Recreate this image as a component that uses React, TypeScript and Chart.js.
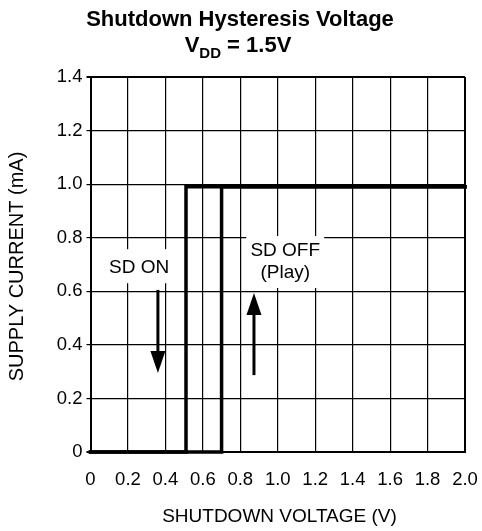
import React, { useEffect, useRef } from "react";
import { Chart, registerables } from "chart.js";

Chart.register(...registerables);

// ---- data ----
const xTickLabels = ["0", "0.2", "0.4", "0.6", "0.8", "1.0", "1.2", "1.4", "1.6", "1.8", "2.0"];
const yTickLabels = ["0", "0.2", "0.4", "0.6", "0.8", "1.0", "1.2", "1.4"];

// SD ON path (decreasing shutdown voltage)
const sdOnVoltage = [2.0, 0.51, 0.51, 0];
const sdOnCurrent = [0.99, 0.99, 0, 0];
// SD OFF path (increasing shutdown voltage)
const sdOffVoltage = [0, 0.7, 0.7, 2.0];
const sdOffCurrent = [0, 0, 0.99, 0.99];

const titleLine1 = "Shutdown Hysteresis Voltage";
const xAxisTitle = "SHUTDOWN VOLTAGE (V)";
const yAxisTitle = "SUPPLY CURRENT (mA)";

const FONT = "'Liberation Sans', Arial, Helvetica, sans-serif";

function toPoints(xs: number[], ys: number[]) {
  return xs.map((x, i) => ({ x, y: ys[i] }));
}

const annotationPlugin = {
  id: "hystAnnotations",
  beforeDatasetsDraw(chart: any) {
    const ctx = chart.ctx as CanvasRenderingContext2D;
    const xs = chart.scales.x;
    const ys = chart.scales.y;
    const px = (v: number) => xs.getPixelForValue(v);
    const py = (v: number) => ys.getPixelForValue(v);
    ctx.save();
    ctx.font = `19px ${FONT}`;
    ctx.textAlign = "center";
    ctx.textBaseline = "middle";

    // SD ON label box
    const onX = px(0.26), onY = py(0.69);
    ctx.fillStyle = "#fff";
    ctx.fillRect(onX - 30, onY - 18, 60, 34);
    ctx.fillStyle = "#000";
    ctx.fillText("SD ON", onX, onY + 1);

    // SD OFF (Play) label box
    const offX = px(1.04), offY1 = py(0.754), offY2 = py(0.672);
    ctx.fillStyle = "#fff";
    ctx.fillRect(offX - 39, offY1 - 14, 78, offY2 - offY1 + 30);
    ctx.fillStyle = "#000";
    ctx.fillText("SD OFF", offX, offY1 + 1);
    ctx.fillText("(Play)", offX, offY2 + 1);

    // arrows
    const arrow = (x: number, yFrom: number, yTo: number) => {
      const X = px(x), Y0 = py(yFrom), Y1 = py(yTo);
      const dir = Y1 > Y0 ? 1 : -1;
      const headLen = 22, headHalf = 7.5;
      ctx.strokeStyle = "#000";
      ctx.lineWidth = 3;
      ctx.beginPath();
      ctx.moveTo(X, Y0);
      ctx.lineTo(X, Y1 - dir * headLen);
      ctx.stroke();
      ctx.fillStyle = "#000";
      ctx.beginPath();
      ctx.moveTo(X, Y1);
      ctx.lineTo(X - headHalf, Y1 - dir * headLen);
      ctx.lineTo(X + headHalf, Y1 - dir * headLen);
      ctx.closePath();
      ctx.fill();
    };
    arrow(0.36, 0.605, 0.295);
    arrow(0.873, 0.287, 0.594);
    ctx.restore();
  },
  afterDraw(chart: any) {
    const ctx = chart.ctx as CanvasRenderingContext2D;
    ctx.save();
    ctx.fillStyle = "#000";
    // title line 1
    ctx.font = `bold 22px ${FONT}`;
    ctx.textAlign = "center";
    ctx.textBaseline = "alphabetic";
    ctx.fillText(titleLine1, 240, 26);
    // title line 2: V_DD = 1.5V
    ctx.textAlign = "left";
    const big = `bold 22px ${FONT}`;
    const small = `bold 15px ${FONT}`;
    ctx.font = big;
    const wV = ctx.measureText("V").width;
    const wRest = ctx.measureText(" = 1.5V").width;
    ctx.font = small;
    const wDD = ctx.measureText("DD").width;
    const total = wV + wDD + wRest;
    let x0 = 238 - total / 2;
    ctx.font = big;
    ctx.fillText("V", x0, 52);
    x0 += wV;
    ctx.font = small;
    ctx.fillText("DD", x0, 58);
    x0 += wDD;
    ctx.font = big;
    ctx.fillText(" = 1.5V", x0, 52);

    // x axis title
    ctx.font = `19px ${FONT}`;
    ctx.textAlign = "center";
    ctx.fillText(xAxisTitle, 279.5, 522);

    // y axis title
    ctx.translate(23, 266.5);
    ctx.rotate(-Math.PI / 2);
    ctx.font = `20px ${FONT}`;
    ctx.fillText(yAxisTitle, 0, 0);
    ctx.restore();
  },
};

export default function App() {
  const canvasRef = useRef<HTMLCanvasElement | null>(null);

  useEffect(() => {
    const canvas = canvasRef.current;
    if (!canvas) return;
    const chart = new Chart(canvas, {
      type: "scatter",
      data: {
        datasets: [
          {
            label: "SD ON",
            data: toPoints(sdOnVoltage, sdOnCurrent),
            showLine: true,
            borderColor: "#000",
            borderWidth: 3.5,
            pointRadius: 0,
            tension: 0,
            clip: false as any,
            borderCapStyle: "square",
            borderJoinStyle: "miter",
          },
          {
            label: "SD OFF",
            data: toPoints(sdOffVoltage, sdOffCurrent),
            showLine: true,
            borderColor: "#000",
            borderWidth: 3.5,
            pointRadius: 0,
            tension: 0,
            clip: false as any,
            borderCapStyle: "square",
            borderJoinStyle: "miter",
          },
        ],
      },
      options: {
        responsive: false,
        animation: false,
        devicePixelRatio: 1,
        layout: { padding: { top: 77, right: 17, left: 0, bottom: 0 } },
        plugins: {
          legend: { display: false },
          tooltip: { enabled: false },
          title: { display: false },
        },
        scales: {
          x: {
            type: "linear",
            min: 0,
            max: 2,
            afterFit: (scale: any) => {
              scale.height = 79;
              scale.paddingLeft = 0;
              scale.paddingRight = 0;
            },
            ticks: {
              stepSize: 0.2,
              color: "#000",
              padding: 17,
              maxRotation: 0,
              autoSkip: false,
              font: { family: FONT, size: 18.5 },
              callback: (_v: any, i: number) => xTickLabels[i],
            },
            grid: {
              color: "#000",
              lineWidth: (c: any) => (c.index === 0 || c.index === xTickLabels.length - 1 ? 2 : 1.2),
              drawTicks: false,
            },
            border: { display: true, color: "#000", width: 2 },
          },
          y: {
            type: "linear",
            min: 0,
            max: 1.4,
            afterFit: (scale: any) => {
              scale.width = 90.5;
              scale.paddingTop = 0;
              scale.paddingBottom = 0;
            },
            ticks: {
              stepSize: 0.2,
              color: "#000",
              padding: 4,
              font: { family: FONT, size: 18.5 },
              callback: (_v: any, i: number) => yTickLabels[i],
            },
            grid: {
              color: "#000",
              lineWidth: (c: any) => (c.index === 0 || c.index === yTickLabels.length - 1 ? 2 : 1.2),
              drawTicks: true,
              tickLength: 4,
            },
            border: { display: true, color: "#000", width: 2 },
          },
        },
      },
      plugins: [annotationPlugin],
    });
    return () => chart.destroy();
  }, []);

  return (
    <div style={{ position: "fixed", left: 0, top: 0, width: 482, height: 531, background: "#fff" }}>
      <canvas ref={canvasRef} width={482} height={531} style={{ width: 482, height: 531, display: "block" }} />
    </div>
  );
}
